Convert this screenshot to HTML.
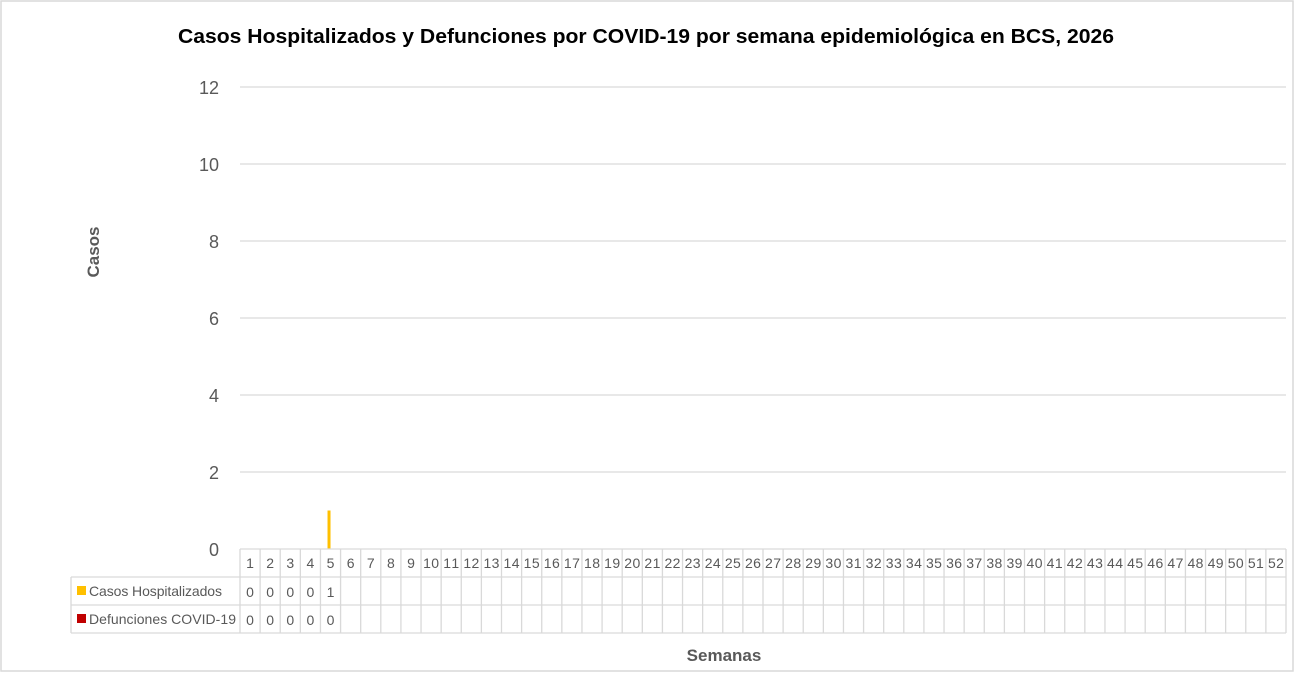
<!DOCTYPE html>
<html><head><meta charset="utf-8"><style>
html,body{margin:0;padding:0;background:#fff;}
svg{display:block;font-family:"Liberation Sans",sans-serif;}
</style></head><body>
<svg id="chart" width="1295" height="673">
<rect x="1" y="1" width="1292" height="670" fill="#fff" stroke="#d9d9d9" stroke-width="1.5"/>
<text x="646" y="43" text-anchor="middle" font-size="20" font-weight="bold" fill="#000" textLength="936" lengthAdjust="spacingAndGlyphs">Casos Hospitalizados y Defunciones por COVID-19 por semana epidemiológica en BCS, 2026</text>
<text x="0" y="0" transform="translate(99,252) rotate(-90)" text-anchor="middle" font-size="17" font-weight="bold" fill="#595959">Casos</text>
<text x="724" y="661" text-anchor="middle" font-size="17" font-weight="bold" fill="#595959">Semanas</text>
<g id="grid"></g><g id="bars"></g><g id="table"></g>
</svg>
<script>
const weeks = Array.from({length:52},(_,i)=>String(i+1));
const hospitalizados = [0,0,0,0,1];
const defunciones = [0,0,0,0,0];
const yTicks = [0,2,4,6,8,10,12];
const seriesNames = ["Casos Hospitalizados","Defunciones COVID-19"];
const seriesColors = ["#ffc000","#c00000"];

const NS="http://www.w3.org/2000/svg";
const X0=240, X1=1286, Y0=549, Y1=87, YMAX=12;
const colW=(X1-X0)/weeks.length;
const y=v=>Y0-(v/YMAX)*(Y0-Y1);
const xc=i=>X0+colW*(i+0.5);
function mk(tag,attrs,parent){const e=document.createElementNS(NS,tag);for(const k in attrs)e.setAttribute(k,attrs[k]);parent.appendChild(e);return e;}
const grid=document.getElementById('grid'), bars=document.getElementById('bars'), table=document.getElementById('table');

yTicks.forEach(t=>{
  if(t>0){const l=mk('line',{x1:X0,x2:X1,y1:y(t),y2:y(t),stroke:'#d9d9d9','stroke-width':1.3},grid);
  
  }
  const tx=mk('text',{x:219,y:y(t)+7,'text-anchor':'end','font-size':18,fill:'#595959'},grid);
  tx.textContent=t;
  
  
});

[hospitalizados,defunciones].forEach((s,si)=>{
  s.forEach((v,i)=>{
    if(v<=0)return;
    const bw=3;
    const r=mk('rect',{x:xc(i)-bw+(si===0?0:bw),y:y(v),width:bw,height:Y0-y(v),fill:seriesColors[si]},bars);
    
    
  });
});

const rowY=[549,577,605,633];
const st={stroke:'#d9d9d9','stroke-width':1.3};
mk('line',Object.assign({x1:X0,x2:X1,y1:rowY[0],y2:rowY[0]},st),table);
for(let r=1;r<4;r++) mk('line',Object.assign({x1:71,x2:X1,y1:rowY[r],y2:rowY[r]},st),table);
mk('line',Object.assign({x1:71,x2:71,y1:rowY[1],y2:rowY[3]},st),table);
for(let i=0;i<=weeks.length;i++) mk('line',Object.assign({x1:X0+colW*i,x2:X0+colW*i,y1:rowY[0],y2:rowY[3]},st),table);
weeks.forEach((w,i)=>{
  const t=mk('text',{x:xc(i),y:568,'text-anchor':'middle','font-size':14,fill:'#595959'},table);
  t.textContent=w;
  if(w.length>1) t.setAttribute('textLength',16);
  
  
});
[hospitalizados,defunciones].forEach((s,si)=>{
  const ry=rowY[si+1];
  const sw=mk('rect',{x:77,y:ry+9,width:9,height:9,fill:seriesColors[si]},table);
  
  
  const lt=mk('text',{x:89,y:ry+19,'font-size':14,fill:'#595959'},table);
  lt.textContent=seriesNames[si];
  lt.setAttribute('textLength',si===0?133:147);
  
  
  s.forEach((v,i)=>{
    const t=mk('text',{x:xc(i),y:ry+20,'text-anchor':'middle','font-size':14,fill:'#595959'},table);
    t.textContent=v;
    
    
  });
});
</script>
</body></html>
